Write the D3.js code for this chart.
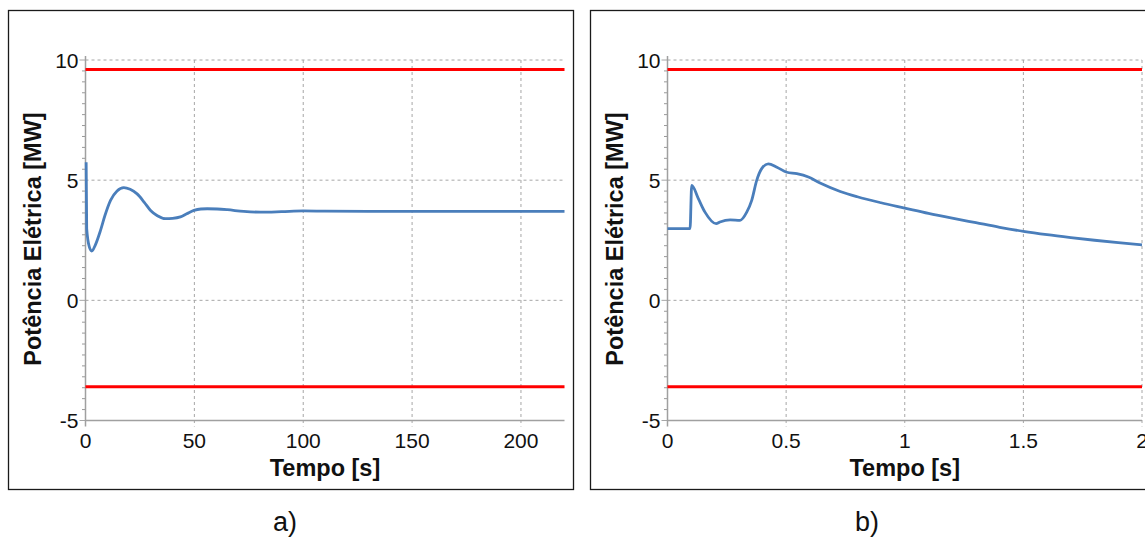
<!DOCTYPE html>
<html><head><meta charset="utf-8">
<script src="https://cdn.jsdelivr.net/npm/d3@7"></script>
<style>body{margin:0;background:#fff;}svg{display:block;font-family:"Liberation Sans",Arial,sans-serif;}</style>
</head><body>
<svg id="chart" width="1145" height="537"></svg>
<script>
// Data
const timeA = [0.3, 0.55, 1.75, 2.85, 4.5, 6.9, 9.0, 11.5, 14.5, 17.6, 20.5, 23.7, 27.0, 29.9, 33.0, 36.7, 40.0, 43.6, 46.5, 49.8, 53.0, 55.9, 60.5, 65.1, 72.7, 80.4, 90, 100, 110, 130, 160, 190, 220];
const powerA = [5.75, 2.98, 2.22, 2.05, 2.3, 2.91, 3.55, 4.16, 4.55, 4.69, 4.62, 4.43, 4.08, 3.74, 3.52, 3.40, 3.41, 3.47, 3.60, 3.74, 3.80, 3.81, 3.80, 3.77, 3.70, 3.67, 3.69, 3.72, 3.71, 3.70, 3.70, 3.70, 3.70];
const timeB = [0, 0.095, 0.102, 0.13, 0.158, 0.205, 0.221, 0.264, 0.306, 0.334, 0.355, 0.376, 0.397, 0.425, 0.461, 0.503, 0.545, 0.594, 0.643, 0.728, 0.8, 0.9, 1.0, 1.1, 1.2, 1.3, 1.4, 1.5, 1.6, 1.7, 1.8, 1.9, 2.0];
const powerB = [2.98, 2.98, 4.78, 4.23, 3.67, 3.19, 3.26, 3.35, 3.33, 3.67, 4.16, 4.99, 5.48, 5.68, 5.54, 5.33, 5.27, 5.13, 4.88, 4.53, 4.31, 4.06, 3.84, 3.62, 3.42, 3.23, 3.04, 2.87, 2.73, 2.61, 2.50, 2.40, 2.31];
const limits = [9.6, -3.6];
const yTicks = [-5, 0, 5, 10];
const xTicksA = [0, 50, 100, 150, 200];
const xTicksB = [0, 0.5, 1, 1.5, 2];
const yTitle = "Potência Elétrica [MW]";
const xTitle = "Tempo [s]";
const captions = ["a)", "b)"];

const svg = d3.select("#chart");

const panels = [
  {frame:[8,10,565,479], xr:[85.5,564.5], xd:[0,220], ticks:xTicksA, t:timeA, v:powerA, cap:captions[0], capX:285, titleX:33},
  {frame:[590,10,600,479], xr:[667.5,1142], xd:[0,2], ticks:xTicksB, t:timeB, v:powerB, cap:captions[1], capX:867, titleX:615}
];

panels.forEach(p => {
  const g = svg.append("g");
  g.append("rect").attr("x",p.frame[0]+0.5).attr("y",p.frame[1]+0.5).attr("width",p.frame[2]).attr("height",p.frame[3])
    .attr("fill","none").attr("stroke","#1a1a1a").attr("stroke-width",1.3);

  const x = d3.scaleLinear().domain(p.xd).range(p.xr);
  const y = d3.scaleLinear().domain([-5,10]).range([420.5,60]);
  const x0 = p.xr[0], x1 = p.xr[1];

  // grid
  yTicks.filter(d=>d>-5).forEach(d=>{
    g.append("line").attr("x1",x0).attr("x2",x1).attr("y1",y(d)).attr("y2",y(d))
      .attr("stroke","#a6a6a6").attr("stroke-dasharray","3,3").attr("stroke-width",1);
  });
  p.ticks.filter(d=>d>p.xd[0]).forEach(d=>{
    g.append("line").attr("x1",x(d)).attr("x2",x(d)).attr("y1",y(10)).attr("y2",y(-5)+6)
      .attr("stroke","#a6a6a6").attr("stroke-dasharray","3,3").attr("stroke-width",1);
  });

  // y minor ticks
  d3.range(0,34).map(i=>-5+i*5/11).filter(v=>v<=10.001).forEach(v=>{
    const major = yTicks.some(t=>Math.abs(t-v)<1e-6);
    g.append("line").attr("x1",x0-(major?6:3.5)).attr("x2",x0).attr("y1",y(v)).attr("y2",y(v))
      .attr("stroke", major ? "#a6a6a6" : "#999").attr("stroke-width",1);
  });

  // axes lines
  g.append("line").attr("x1",x0).attr("x2",x0).attr("y1",y(10)-4).attr("y2",y(-5)+6).attr("stroke","#a0a0a0").attr("stroke-width",1.5);
  g.append("line").attr("x1",x0).attr("x2",x1).attr("y1",y(-5)).attr("y2",y(-5)).attr("stroke","#a0a0a0").attr("stroke-width",1.5);

  // tick labels
  yTicks.forEach(d=>{
    g.append("text").attr("x",x0-7).attr("y",y(d)).attr("dy","0.36em").attr("text-anchor","end")
      .attr("font-size",21).attr("fill","#111").text(d);
  });
  p.ticks.forEach(d=>{
    g.append("text").attr("x",x(d)).attr("y",447.5).attr("text-anchor","middle")
      .attr("font-size",21).attr("fill","#111").text(d);
  });

  // titles
  g.append("text").attr("x",(x0+x1)/2).attr("y",476).attr("text-anchor","middle")
    .attr("font-size",23.5).attr("font-weight","bold").attr("fill","#111").text(xTitle);
  g.append("text").attr("transform",`translate(${p.titleX + 8},${239}) rotate(-90)`).attr("text-anchor","middle")
    .attr("font-size",23.5).attr("font-weight","bold").attr("fill","#111").text(yTitle);

  // limits
  limits.forEach(l=>{
    g.append("line").attr("x1",x0).attr("x2",x1).attr("y1",y(l)).attr("y2",y(l))
      .attr("stroke","#ff0000").attr("stroke-width",3);
  });

  // curve
  const data = p.t.map((t,i)=>[t,p.v[i]]);
  const line = d3.line().x(d=>x(d[0])).y(d=>y(d[1])).curve(d3.curveMonotoneX);
  g.append("path").attr("d",line(data)).attr("fill","none").attr("stroke","#4a7ebb").attr("stroke-width",2.8)
    .attr("stroke-linejoin","round");

  // caption
  g.append("text").attr("x",p.capX).attr("y",531).attr("text-anchor","middle")
    .attr("font-size",27).attr("fill","#111").text(p.cap);
});
</script>
</body></html>
